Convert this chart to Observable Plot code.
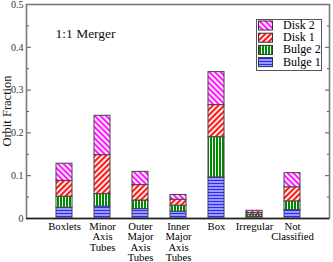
<!DOCTYPE html>
<html>
<head>
<meta charset="utf-8">
<script src="https://cdn.jsdelivr.net/npm/d3@7"></script>
<script src="https://cdn.jsdelivr.net/npm/@observablehq/plot@0.6"></script>
<style>
  html, body { margin: 0; padding: 0; background: #fff; }
  #wrap { position: relative; width: 333px; height: 262px; font-family: "Liberation Serif", "Times New Roman", serif; }
  #legend { position: absolute; left: 256px; top: 19px; }
  #ylab { position: absolute; left: 0; top: 0; }
</style>
</head>
<body>
<svg width="0" height="0" style="position:absolute">
  <defs>
    <pattern id="p-b1" patternUnits="userSpaceOnUse" width="4" height="3">
      <rect width="4" height="3" fill="#9a9aff"/>
      <rect y="0" width="4" height="1" fill="#2a2aff"/>
    </pattern>
    <pattern id="p-b2" patternUnits="userSpaceOnUse" width="3" height="4">
      <rect width="3" height="4" fill="#ffffff"/>
      <rect x="0" width="2" height="4" fill="#008c00"/>
    </pattern>
    <pattern id="p-d1" patternUnits="userSpaceOnUse" width="4" height="4" patternTransform="rotate(45)">
      <rect width="4" height="4" fill="#ffffff"/>
      <rect width="2.2" height="4" fill="#ff1a1a"/>
    </pattern>
    <pattern id="p-d2" patternUnits="userSpaceOnUse" width="4" height="4" patternTransform="rotate(-45)">
      <rect width="4" height="4" fill="#ffffff"/>
      <rect width="2.2" height="4" fill="#ff1aff"/>
    </pattern>
  </defs>
</svg>
<div id="wrap"></div>
<script>
const categories = ["Boxlets", "Minor Axis Tubes", "Outer Major Axis Tubes", "Inner Major Axis Tubes", "Box", "Irregular", "Not Classified"];
const tickLabels = ["Boxlets", "Minor\nAxis\nTubes", "Outer\nMajor\nAxis\nTubes", "Inner\nMajor\nAxis\nTubes", "Box", "Irregular", "Not\nClassified"];
const seriesNames = ["Bulge 1", "Bulge 2", "Disk 1", "Disk 2"];
const bulge1 = [0.025, 0.028, 0.022, 0.016, 0.096, 0.004, 0.020];
const bulge2 = [0.026, 0.029, 0.020, 0.014, 0.094, 0.005, 0.020];
const disk1  = [0.037, 0.091, 0.036, 0.014, 0.075, 0.004, 0.033];
const disk2  = [0.040, 0.092, 0.031, 0.011, 0.077, 0.005, 0.033];
const patterns = ["url(#p-b1)", "url(#p-b2)", "url(#p-d1)", "url(#p-d2)"];
const yMajor = [0, 0.1, 0.2, 0.3, 0.4, 0.5];
const yMinor = [0.05, 0.15, 0.25, 0.35, 0.45];
const title = "1:1 Merger";
const yLabel = "Orbit Fraction";

const seriesValues = [bulge1, bulge2, disk1, disk2];
const data = [];
seriesNames.forEach((s, i) => categories.forEach((c, j) => data.push({cat: c, series: s, value: seriesValues[i][j]})));
const labelOf = new Map(categories.map((c, i) => [c, tickLabels[i]]));

const font = "Liberation Serif, Times New Roman, serif";
const mTop = 4, mBottom = 44, H = 262;
const chart = Plot.plot({
  width: 333,
  height: H,
  marginLeft: 26,
  marginRight: 4,
  marginTop: mTop,
  marginBottom: mBottom,
  style: {fontFamily: font, fontSize: "10px", color: "#000", background: "#fff"},
  x: {domain: categories, paddingInner: 0.58, paddingOuter: 0.775, axis: null, label: null},
  y: {domain: [0, 0.5], axis: null, label: null},
  color: {type: "ordinal", domain: seriesNames, range: patterns},
  marks: [
    Plot.barY(data, Plot.stackY({x: "cat", y: "value", fill: "series", order: seriesNames, stroke: "#444", strokeWidth: 1})),
    Plot.axisY({ticks: yMajor, anchor: "left", tickSize: -5, fill: "none", stroke: "#555", label: null}),
    Plot.axisY({ticks: yMinor, anchor: "left", tickSize: -3, fill: "none", stroke: "#555", label: null}),
    Plot.axisY({ticks: yMajor, anchor: "right", tickSize: -5, fill: "none", stroke: "#555", label: null}),
    Plot.axisY({ticks: yMinor, anchor: "right", tickSize: -3, fill: "none", stroke: "#555", label: null}),
    Plot.axisY({ticks: yMajor, anchor: "left", tickSize: 0, tickPadding: 3, tickFormat: d => d === 0 ? "0" : d3.format(".1f")(d), fontSize: 10, fill: "#333", label: null}),
    Plot.axisX({anchor: "bottom", tickSize: 0, tickPadding: 4, tickFormat: d => labelOf.get(d), fontSize: 10.7, lineHeight: 0.97, label: null}),
    Plot.frame({stroke: "#7a7a7a", strokeWidth: 1.6}),
    Plot.ruleY([0], {stroke: "#222", strokeWidth: 1.5}),
    Plot.text([title], {frameAnchor: "top-left", dx: 29, dy: 29, fontSize: 13.5, textAnchor: "start", lineAnchor: "middle", fill: "#111"})
  ]
});
document.getElementById("wrap").appendChild(chart);

const ns = "http://www.w3.org/2000/svg";
// y-axis label overlay, centred on the frame
const yl = document.createElementNS(ns, "svg");
yl.setAttribute("id", "ylab");
yl.setAttribute("width", 16); yl.setAttribute("height", H);
const ylt = document.createElementNS(ns, "text");
const cyMid = (mTop + H - mBottom) / 2;
ylt.setAttribute("transform", `translate(11,${cyMid}) rotate(-90)`);
ylt.setAttribute("text-anchor", "middle");
ylt.setAttribute("font-family", font); ylt.setAttribute("font-size", "12.5");
ylt.setAttribute("fill", "#111");
ylt.textContent = yLabel;
yl.appendChild(ylt);
document.getElementById("wrap").appendChild(yl);

// legend overlay (order top to bottom: Disk 2, Disk 1, Bulge 2, Bulge 1)
const legendOrder = [3, 2, 1, 0];
const lg = document.createElementNS(ns, "svg");
lg.setAttribute("id", "legend");
lg.setAttribute("width", 66);
lg.setAttribute("height", 52);
const box = document.createElementNS(ns, "rect");
box.setAttribute("x", 0.5); box.setAttribute("y", 0.5);
box.setAttribute("width", 65); box.setAttribute("height", 51);
box.setAttribute("fill", "#fff"); box.setAttribute("stroke", "#555");
lg.appendChild(box);
legendOrder.forEach((k, r) => {
  const cy = 6 + r * 12.2;
  const sw = document.createElementNS(ns, "rect");
  sw.setAttribute("x", 2.5); sw.setAttribute("y", cy - 4.5 + 0.5);
  sw.setAttribute("width", 14); sw.setAttribute("height", 9);
  sw.setAttribute("fill", patterns[k]); sw.setAttribute("stroke", "#333");
  lg.appendChild(sw);
  const t = document.createElementNS(ns, "text");
  t.setAttribute("x", 27); t.setAttribute("y", cy + 4);
  t.setAttribute("font-family", font); t.setAttribute("font-size", "12");
  t.textContent = seriesNames[k];
  lg.appendChild(t);
});
document.getElementById("wrap").appendChild(lg);
</script>
</body>
</html>
